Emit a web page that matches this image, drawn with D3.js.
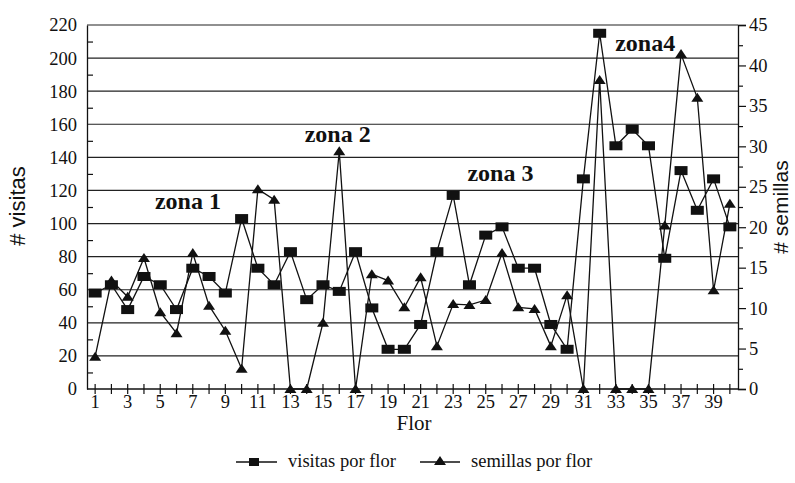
<!DOCTYPE html>
<html>
<head>
<meta charset="utf-8">
<script src="https://cdn.jsdelivr.net/npm/d3@7"></script>
<style>
  html, body { margin: 0; padding: 0; background: #fff; }
  svg { display: block; }
</style>
</head>
<body>
<svg id="chart" width="795" height="483"></svg>
<script>
// Flower index 1..40
const flores = d3.range(1, 41);

// Visits per flower (left axis)
const visitas = [
  58, 63, 48, 68, 63, 48, 73, 68, 58, 103,
  73, 63, 83, 54, 63, 59, 83, 49, 24, 24,
  39, 83, 117, 63, 93, 98, 73, 73, 39, 24,
  127, 215, 147, 157, 147, 79, 132, 108, 127, 98
];

// Seeds per flower (right axis)
const semillas = [
  4, 13.4, 11.4, 16.2, 9.5, 6.9, 16.8, 10.3, 7.2, 2.5,
  24.7, 23.4, 0, 0, 8.2, 29.4, 0, 14.2, 13.4, 10.1,
  13.8, 5.3, 10.5, 10.4, 11, 16.8, 10.1, 9.9, 5.3, 11.6,
  0, 38.2, 0, 0, 0, 20.2, 41.4, 36, 12.2, 22.9
];

const leftTicks = d3.range(0, 221, 20);
const rightTicks = d3.range(0, 46, 5);
const xLabelTicks = d3.range(1, 41, 2);

// Zone annotations, placed in data units (flower, visits)
const zonas = [
  { label: "zona 1", flor: 6.7, v: 109 },
  { label: "zona 2", flor: 15.9, v: 149 },
  { label: "zona 3", flor: 25.9, v: 126 },
  { label: "zona4", flor: 34.8, v: 204 }
];

const serif = "'Liberation Serif', 'Times New Roman', serif";
const sans = "'Liberation Sans', Arial, sans-serif";

const svg = d3.select("#chart");
const L = 87, R = 738, T = 25, B = 389;

const x = d3.scaleLinear().domain([0.5, 40.5]).range([L, R]);
const yL = d3.scaleLinear().domain([0, 220]).range([B, T]);
const yR = d3.scaleLinear().domain([0, 45]).range([B, T]);

// Horizontal grid at each major left tick
svg.append("g")
  .selectAll("line")
  .data(leftTicks.filter(d => d > 0))
  .join("line")
  .attr("x1", L).attr("x2", R)
  .attr("y1", d => yL(d)).attr("y2", d => yL(d))
  .attr("stroke", "#222").attr("stroke-width", 1.2);

// Left axis with labels
const gl = svg.append("g").attr("transform", `translate(${L},0)`)
  .call(d3.axisLeft(yL).tickValues(leftTicks).tickSize(0).tickPadding(10));
gl.select(".domain").attr("stroke", "#111").attr("stroke-width", 1.3);
gl.selectAll("text").style("font-family", serif).style("font-size", "18.5px").attr("fill", "#111");

// Left minor ticks pointing inward
svg.append("g").attr("transform", `translate(${L},0)`)
  .call(d3.axisRight(yL).tickValues(d3.range(10, 220, 20)).tickSize(6).tickFormat(""))
  .call(g => g.select(".domain").remove())
  .selectAll("line").attr("stroke", "#111").attr("stroke-width", 1.2);

// Right axis with labels
const gr = svg.append("g").attr("transform", `translate(${R},0)`)
  .call(d3.axisRight(yR).tickValues(rightTicks).tickSize(8).tickPadding(3));
gr.select(".domain").attr("stroke", "#111").attr("stroke-width", 1.3);
gr.selectAll("line").attr("stroke", "#111").attr("stroke-width", 1.2);
gr.selectAll("text").style("font-family", serif).style("font-size", "18.5px").attr("fill", "#111");

// Right minor ticks
svg.append("g").attr("transform", `translate(${R},0)`)
  .call(d3.axisRight(yR).tickValues(d3.range(2.5, 45, 5)).tickSize(5).tickFormat(""))
  .call(g => g.select(".domain").remove())
  .selectAll("line").attr("stroke", "#111").attr("stroke-width", 1.2);

// X axis: crossing ticks at every flower, labels on odd ones
const gx = svg.append("g").attr("transform", `translate(0,${B})`);
gx.append("line").attr("x1", L).attr("x2", R).attr("stroke", "#111").attr("stroke-width", 1.3);
gx.selectAll("line.tk").data(flores).join("line").attr("class", "tk")
  .attr("x1", d => x(d)).attr("x2", d => x(d))
  .attr("y1", -5).attr("y2", 5)
  .attr("stroke", "#111").attr("stroke-width", 1.2);
gx.selectAll("text").data(xLabelTicks).join("text")
  .attr("x", d => x(d)).attr("y", 19)
  .attr("text-anchor", "middle")
  .style("font-family", serif).style("font-size", "18.5px").attr("fill", "#111")
  .text(d => d);

// Axis titles
svg.append("text")
  .attr("transform", `translate(25,206) rotate(-90)`)
  .attr("text-anchor", "middle")
  .style("font-family", sans).style("font-size", "22px").attr("fill", "#111")
  .text("# visitas");
svg.append("text")
  .attr("transform", `translate(788,207) rotate(-90)`)
  .attr("text-anchor", "middle")
  .style("font-family", sans).style("font-size", "21px").attr("fill", "#111")
  .text("# semillas");
svg.append("text")
  .attr("x", 414).attr("y", 430)
  .attr("text-anchor", "middle")
  .style("font-family", serif).style("font-size", "21px").attr("fill", "#111")
  .text("Flor");

// Series lines
const lineV = d3.line().x((d, i) => x(flores[i])).y(d => yL(d));
const lineS = d3.line().x((d, i) => x(flores[i])).y(d => yR(d));

svg.append("path").datum(semillas)
  .attr("d", lineS).attr("fill", "none")
  .attr("stroke", "#111").attr("stroke-width", 1.3);
svg.append("path").datum(visitas)
  .attr("d", lineV).attr("fill", "none")
  .attr("stroke", "#111").attr("stroke-width", 1.3);

// Markers
const triPath = "M0,-5L6,4L-6,4Z";
svg.append("g").selectAll("path").data(semillas).join("path")
  .attr("transform", (d, i) => `translate(${x(flores[i])},${yR(d)})`)
  .attr("d", triPath).attr("fill", "#111");

svg.append("g").selectAll("rect").data(visitas).join("rect")
  .attr("x", (d, i) => x(flores[i]) - 6.5)
  .attr("y", d => yL(d) - 4.5)
  .attr("width", 13).attr("height", 9)
  .attr("fill", "#111");

// Zone annotations
svg.append("g").selectAll("text").data(zonas).join("text")
  .attr("x", d => x(d.flor)).attr("y", d => yL(d.v))
  .attr("text-anchor", "middle")
  .style("font-family", serif).style("font-weight", "bold")
  .style("font-size", "24px").attr("fill", "#111")
  .text(d => d.label);

// Legend
const leg = svg.append("g");
leg.append("line").attr("x1", 236).attr("x2", 277).attr("y1", 462).attr("y2", 462)
  .attr("stroke", "#111").attr("stroke-width", 1.3);
leg.append("rect").attr("x", 249).attr("y", 458).attr("width", 10).attr("height", 8).attr("fill", "#111");
leg.append("text").attr("x", 288).attr("y", 467)
  .style("font-family", serif).style("font-size", "18.5px").attr("fill", "#111")
  .text("visitas por flor");
leg.append("line").attr("x1", 420).attr("x2", 460).attr("y1", 462).attr("y2", 462)
  .attr("stroke", "#111").attr("stroke-width", 1.3);
leg.append("path").attr("transform", "translate(440,461)").attr("d", triPath).attr("fill", "#111");
leg.append("text").attr("x", 471).attr("y", 467)
  .style("font-family", serif).style("font-size", "18.5px").attr("fill", "#111")
  .text("semillas por flor");
</script>
</body>
</html>
